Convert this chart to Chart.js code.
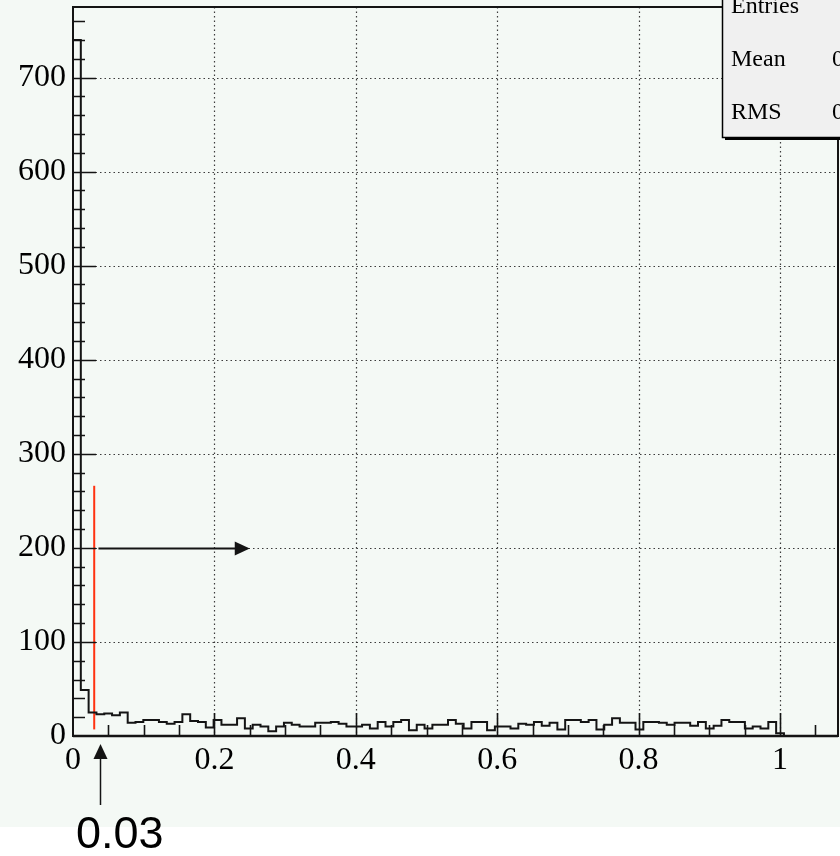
<!DOCTYPE html>
<html>
<head>
<meta charset="utf-8">
<title>Histogram</title>
<script src="https://cdn.jsdelivr.net/npm/chart.js@4"></script>
<style>
  html, body { margin: 0; padding: 0; background: #ffffff; }
  canvas { display: block; }
</style>
</head>
<body>
<canvas id="c" width="840" height="856"></canvas>
<script>
// Histogram definition: fixed-width bins starting at 0
const binWidth = 0.01105;
const binCounts = [
  740, 49, 25, 23, 24, 22, 25, 14, 15, 17,
  17, 15, 13, 15, 23, 16, 15, 9, 17, 12,
  12, 19, 8, 12, 10, 5, 10, 14, 12, 10,
  10, 14, 14, 15, 13, 10, 10, 12, 8, 15,
  10, 15, 17, 6, 12, 8, 12, 12, 17, 13,
  8, 15, 15, 6, 10, 10, 8, 13, 12, 15,
  11, 14, 7, 17, 17, 15, 17, 7, 12, 19,
  14, 14, 7, 15, 15, 14, 12, 14, 14, 11,
  15, 8, 11, 17, 15, 15, 8, 10, 8, 15,
  3
];

// Axis ranges and labels
const xRange = [0, 1.082];
const yRange = [0, 775];
const xTickValues = [0, 0.2, 0.4, 0.6, 0.8, 1];
const xTickLabels = ['0', '0.2', '0.4', '0.6', '0.8', '1'];
const yTickValues = [0, 100, 200, 300, 400, 500, 600, 700];
const yTickLabels = ['0', '100', '200', '300', '400', '500', '600', '700'];
const xMinorStep = 0.05;
const yMinorStep = 20;

// Cut marker and annotation arrows
const cutValue = 0.03;
const cutLabel = '0.03';
const cutSpan = [7, 266];
const arrowLevel = 200;
const arrowFrom = 0.036;
const arrowTo = 0.25;
const pointerX = 0.0375;

// Outline of the histogram: one point per bin edge, each bin's height held
// until the next edge
const histPoints = binCounts.map((c, i) => ({ x: i * binWidth, y: c }));
histPoints.push({ x: binCounts.length * binWidth, y: 0 });
histPoints.push({ x: xRange[1], y: 0 });

const cutPoints = [{ x: cutValue, y: cutSpan[0] }, { x: cutValue, y: cutSpan[1] }];

// Statistics box values
const entries = binCounts.reduce((s, c) => s + c, 0);
const mean = binCounts.reduce((s, c, i) => s + c * (i + 0.5) * binWidth, 0) / entries;
const rms = Math.sqrt(binCounts.reduce((s, c, i) => s + c * Math.pow((i + 0.5) * binWidth - mean, 2), 0) / entries);

const SERIF = '"Liberation Serif", "Times New Roman", "DejaVu Serif", serif';
const SANS = '"Liberation Sans", Arial, "DejaVu Sans", sans-serif';
const INK = '#141414';

function noEdgePadding(s) {
  s.paddingTop = 0;
  s.paddingBottom = 0;
  s.paddingLeft = 0;
  s.paddingRight = 0;
}

const rootPad = {
  id: 'rootPad',
  beforeDraw(chart) {
    const { ctx, width, height } = chart;
    ctx.save();
    ctx.fillStyle = '#ffffff';
    ctx.fillRect(0, 0, width, height);
    ctx.fillStyle = '#f4f9f5';
    ctx.fillRect(0, 0, width, 827);
    ctx.restore();
  },
  beforeDatasetsDraw(chart) {
    const { ctx, chartArea: a, scales: { x, y } } = chart;
    ctx.save();
    ctx.strokeStyle = '#3c3c3c';
    ctx.lineWidth = 1.2;
    ctx.setLineDash([1.5, 3]);
    xTickValues.forEach(v => {
      if (v === 0) return;
      const px = Math.round(x.getPixelForValue(v)) + 0.5;
      ctx.beginPath(); ctx.moveTo(px, a.top); ctx.lineTo(px, a.bottom); ctx.stroke();
    });
    yTickValues.forEach(v => {
      if (v === 0) return;
      const py = Math.round(y.getPixelForValue(v)) + 0.5;
      ctx.beginPath(); ctx.moveTo(a.left, py); ctx.lineTo(a.right, py); ctx.stroke();
    });
    ctx.restore();
  },
  afterDatasetsDraw(chart) {
    const { ctx, chartArea: a, scales: { x, y } } = chart;
    ctx.save();
    ctx.strokeStyle = INK;
    ctx.fillStyle = INK;

    // ticks inside the frame
    ctx.lineWidth = 1.6;
    ctx.beginPath();
    for (let v = yMinorStep; v <= yRange[1]; v += yMinorStep) {
      const major = yTickValues.includes(v);
      const py = Math.round(y.getPixelForValue(v)) + 0.5;
      ctx.moveTo(a.left, py);
      ctx.lineTo(a.left + (major ? 23 : 12), py);
    }
    for (let i = 1; i * xMinorStep <= xRange[1]; i++) {
      const v = +(i * xMinorStep).toFixed(4);
      const major = xTickValues.includes(v);
      const px = Math.round(x.getPixelForValue(v)) + 0.5;
      ctx.moveTo(px, a.bottom);
      ctx.lineTo(px, a.bottom - (major ? 23 : 11));
    }
    ctx.stroke();

    // frame
    ctx.lineWidth = 2;
    ctx.strokeRect(a.left, a.top, a.right - a.left, a.bottom - a.top);
    ctx.lineWidth = 2.4;
    ctx.beginPath();
    ctx.moveTo(a.left, a.bottom); ctx.lineTo(a.right, a.bottom);
    ctx.stroke();

    // horizontal arrow at the cut
    const ay = Math.round(y.getPixelForValue(arrowLevel)) + 0.5;
    const ax0 = x.getPixelForValue(arrowFrom);
    const ax1 = x.getPixelForValue(arrowTo);
    ctx.lineWidth = 2;
    ctx.beginPath(); ctx.moveTo(ax0, ay); ctx.lineTo(ax1 - 12, ay); ctx.stroke();
    ctx.beginPath();
    ctx.moveTo(ax1, ay); ctx.lineTo(ax1 - 15, ay - 7); ctx.lineTo(ax1 - 15, ay + 7); ctx.closePath();
    ctx.fill();

    // vertical pointer under the axis
    const vx = Math.round(x.getPixelForValue(pointerX)) + 0.5;
    const tipY = a.bottom + 8;
    ctx.lineWidth = 1.5;
    ctx.beginPath(); ctx.moveTo(vx, a.bottom + 69); ctx.lineTo(vx, tipY + 12); ctx.stroke();
    ctx.beginPath();
    ctx.moveTo(vx, tipY); ctx.lineTo(vx - 7, tipY + 15); ctx.lineTo(vx + 7, tipY + 15); ctx.closePath();
    ctx.fill();

    ctx.font = '45px ' + SANS;
    ctx.textAlign = 'left';
    ctx.textBaseline = 'alphabetic';
    ctx.fillStyle = '#000';
    ctx.fillText(cutLabel, 76, 848);

    // statistics box
    const bx = 722, bb = 137;
    ctx.fillStyle = '#000';
    ctx.fillRect(bx + 3, bb, 130, 3);
    ctx.fillStyle = '#f0f0f0';
    ctx.fillRect(bx, -5, 130, bb + 5);
    ctx.strokeStyle = '#000';
    ctx.lineWidth = 1.5;
    ctx.strokeRect(bx + 0.5, -5, 130, bb + 5.5);
    ctx.fillStyle = '#000';
    ctx.font = '24px ' + SERIF;
    ctx.textAlign = 'left';
    ctx.fillText('Entries', 731, 13);
    ctx.fillText('Mean', 731, 66);
    ctx.fillText('RMS', 731, 118.5);
    ctx.textAlign = 'right';
    ctx.fillText(String(entries), 898, 13);
    ctx.fillText(mean.toFixed(4), 898, 66);
    ctx.fillText(rms.toFixed(4), 898, 118.5);
    ctx.restore();
  }
};

new Chart(document.getElementById('c'), {
  type: 'line',
  data: {
    datasets: [
      {
        label: 'histogram',
        data: histPoints,
        stepped: 'before',
        borderColor: INK,
        borderWidth: 2,
        pointRadius: 0,
        fill: false
      },
      {
        label: 'cut',
        data: cutPoints,
        borderColor: '#ff3210',
        borderWidth: 2,
        pointRadius: 0,
        fill: false
      }
    ]
  },
  options: {
    responsive: false,
    animation: false,
    devicePixelRatio: 1,
    layout: { padding: { top: 7, right: 2, left: 0, bottom: 0 } },
    plugins: { legend: { display: false }, tooltip: { enabled: false } },
    scales: {
      x: {
        type: 'linear',
        min: xRange[0],
        max: xRange[1],
        grid: { display: false, drawTicks: false },
        border: { display: false },
        afterFit(s) { s.height = 120; noEdgePadding(s); },
        afterBuildTicks(s) { s.ticks = xTickValues.map(v => ({ value: v })); },
        ticks: {
          autoSkip: false,
          maxRotation: 0,
          padding: 5,
          color: '#000',
          font: { family: SERIF, size: 32 },
          callback: (v) => xTickLabels[xTickValues.indexOf(v)] ?? ''
        }
      },
      y: {
        type: 'linear',
        min: yRange[0],
        max: yRange[1],
        grid: { display: false, drawTicks: false },
        border: { display: false },
        afterFit(s) { s.width = 73; noEdgePadding(s); },
        afterBuildTicks(s) { s.ticks = yTickValues.map(v => ({ value: v })); },
        ticks: {
          autoSkip: false,
          padding: 7,
          color: '#000',
          font: { family: SERIF, size: 32 },
          callback: (v) => yTickLabels[yTickValues.indexOf(v)] ?? ''
        }
      }
    }
  },
  plugins: [rootPad]
});
</script>
</body>
</html>
